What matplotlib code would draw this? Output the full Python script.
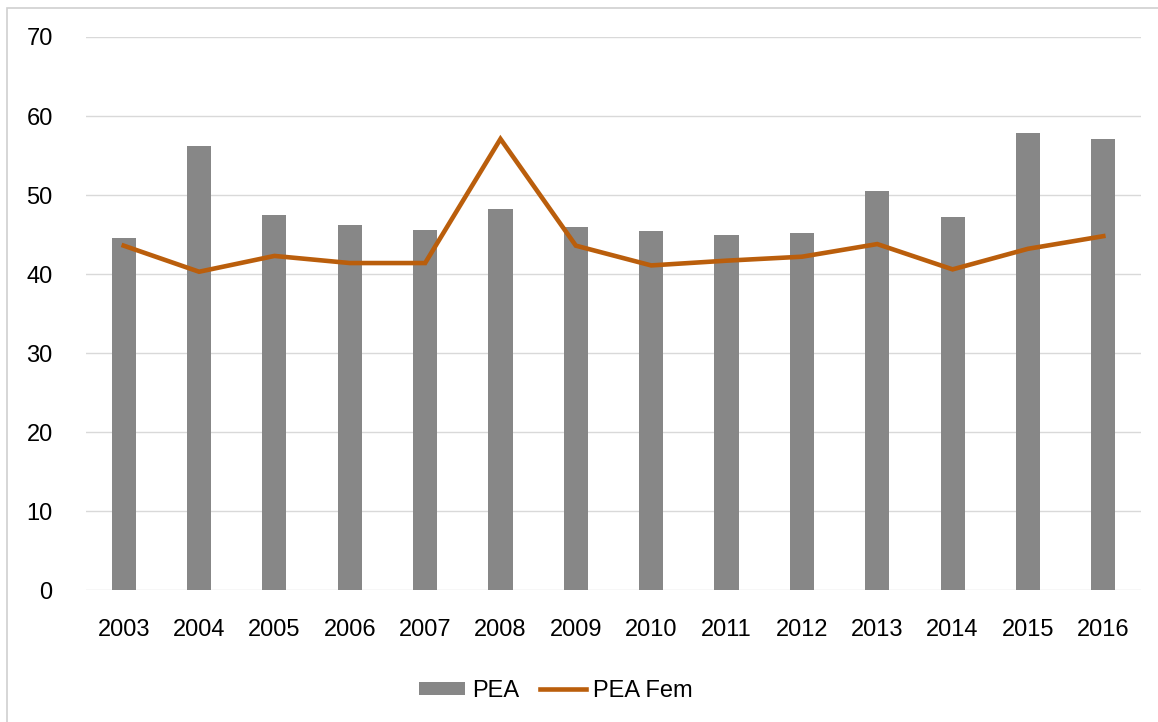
import numpy as np
import matplotlib as mpl
from matplotlib import pyplot as plt
from matplotlib.patches import Rectangle

# Series values
years   = ['2003', '2004', '2005', '2006', '2007', '2008', '2009',
           '2010', '2011', '2012', '2013', '2014', '2015', '2016']
pea     = [44.6, 56.2, 47.5, 46.2, 45.6, 48.3, 46.0,
           45.4, 44.9, 45.2, 50.5, 47.2, 57.8, 57.1]
pea_fem = [43.6, 40.3, 42.3, 41.4, 41.4, 57.1, 43.6,
           41.1, 41.7, 42.2, 43.8, 40.6, 43.2, 44.8]

mpl.rcParams['font.family'] = ['Liberation Sans', 'DejaVu Sans']
mpl.rcParams['font.size']   = 17

fig = plt.figure(figsize=(11.58, 7.22), dpi=100)
ax  = fig.add_axes([0.0743, 0.1824, 0.911, 0.7664])

# outer chart frame
fig.patches.append(Rectangle((7/1158, -0.05), 1.2, 1.05 - 8/722,
                             transform=fig.transFigure, fill=False,
                             edgecolor='#D0D0D0', lw=1.2))

x = np.arange(len(years))
bars = ax.bar(x, pea, width=0.32, color='#878787', label='PEA', zorder=2)
line, = ax.plot(x, pea_fem, color='#BA5E0C', lw=3.3, label='PEA Fem',
                zorder=3, solid_joinstyle='miter')

ax.set_xlim(-0.5, len(years) - 0.5)
ax.set_ylim(0, 70)
ax.set_yticks(np.arange(0, 71, 10))
ax.set_xticks(x)
ax.set_xticklabels(years)

ax.yaxis.grid(True, color='#D9D9D9', lw=1.0, zorder=0)
ax.set_axisbelow(True)
for sp in ax.spines.values():
    sp.set_visible(False)
ax.tick_params(axis='both', length=0, colors='black')
ax.tick_params(axis='y', pad=24)
ax.tick_params(axis='x', pad=21)

fig.legend([bars, line], ['PEA', 'PEA Fem'], loc='center',
           bbox_to_anchor=(0.480, 0.043), ncol=2,
           frameon=False, handlelength=1.95, handleheight=0.5,
           columnspacing=0.85, handletextpad=0.3)

fig.savefig('out.png', dpi=100)
